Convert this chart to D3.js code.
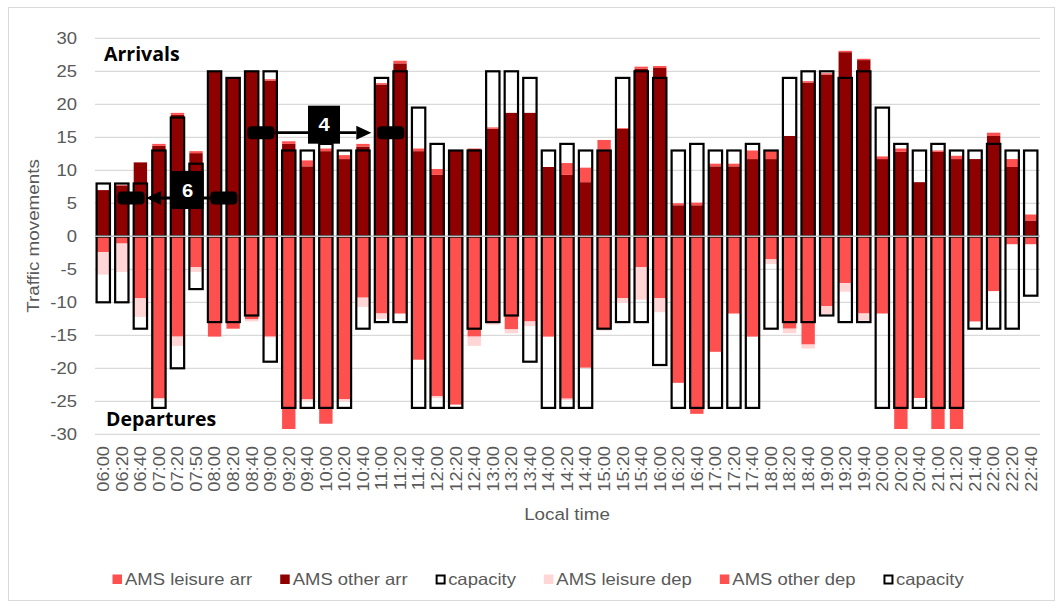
<!DOCTYPE html>
<html>
<head>
<meta charset="utf-8">
<script src="https://cdn.jsdelivr.net/npm/d3@7"></script>
<style>
  body { margin: 0; background: #fff; }
  svg text { font-family: "Liberation Sans", Arial, sans-serif; }
</style>
</head>
<body>
<div id="chart"></div>
<script>
//Values (arrivals up, departures down)
var times = ["06:00","06:20","06:40","07:00","07:20","07:50","08:00","08:20","08:40","09:00",
  "09:20","09:40","10:00","10:20","10:40","11:00","11:20","11:40","12:00","12:20",
  "12:40","13:00","13:20","13:40","14:00","14:20","14:40","15:00","15:20","15:40",
  "16:00","16:20","16:40","17:00","17:20","17:40","18:00","18:20","18:40","19:00",
  "19:20","19:40","20:00","20:20","20:40","21:00","21:20","21:40","22:00","22:20","22:40"];

var otherArr = [7.0, 7.7, 11.2, 13.7, 18.4, 12.6, 25, 24, 25, 23.6,
  14.0, 10.6, 12.9, 11.7, 13.6, 23.0, 26.2, 12.9, 9.3, 13.0,
  13.2, 16.3, 18.7, 18.7, 10.5, 9.3, 8.2, 13.1, 16.3, 25.4,
  25.5, 4.7, 4.7, 10.6, 10.6, 11.7, 11.7, 15.2, 23.3, 24.5,
  27.9, 26.7, 11.7, 12.8, 8.2, 12.8, 11.7, 11.7, 15.2, 10.5, 2.4];

var leisureArr = [0, 0.1, 0, 0.3, 0.3, 0.3, 0, 0, 0, 0.2,
  0.4, 0.9, 0.4, 0.6, 0.4, 0.2, 0.4, 0.4, 0.9, 0,
  0.1, 0.2, 0, 0, 0, 1.8, 2.2, 1.5, 0.1, 0.3,
  0.3, 0.3, 0.4, 0.4, 0.4, 1.3, 1.3, 0, 0.2, 0.2,
  0.2, 0.2, 0.4, 0.5, 0, 0.2, 0.5, 0, 0.5, 1.2, 0.9];

var capArr = [8, 8, 8, 13, 18, 11, 25, 24, 25, 25,
  13, 13, 14, 13, 13, 24, 25, 19.5, 14, 13,
  13, 25, 25, 24, 13, 14, 13, 13, 24, 25,
  24, 13, 14, 13, 13, 14, 13, 24, 25, 25,
  24, 25, 19.5, 14, 13, 14, 13, 13, 14, 13, 13];

var otherDep = [-2.4, -1.1, -9.4, -24.5, -15.2, -4.7, -15.2, -14.0, -12.6, -15.2,
  -29.2, -24.7, -28.4, -24.7, -9.3, -11.7, -11.7, -18.7, -24.2, -25.5,
  -15.2, -13.1, -14.1, -12.9, -15.2, -24.6, -19.9, -14.0, -9.4, -4.7,
  -9.4, -22.2, -26.9, -17.5, -11.7, -15.2, -3.5, -14.0, -16.4, -10.6,
  -7.1, -11.7, -11.7, -29.2, -24.5, -29.2, -29.2, -12.9, -8.3, -1.2, -1.2];

var leisureDep = [-3.4, -4.3, -2.8, -0.2, -1.4, -0.7, 0, 0, -0.3, -0.1,
  0, -0.2, 0, -0.3, -1.4, -0.8, 0, 0, -0.3, 0,
  -1.4, -0.3, -0.6, -0.7, 0, -0.2, 0, -0.3, -0.7, -4.9,
  -2.1, 0, 0, 0, 0, 0, -0.7, -0.7, -0.6, -1.2,
  -1.3, -1.1, 0, 0, 0, 0, 0, 0, 0, 0, 0];

var capDep = [-10, -10, -14, -26, -20, -8, -13, -13, -12, -19,
  -26, -26, -26, -26, -14, -13, -13, -26, -26, -26,
  -14, -13, -12, -19, -26, -26, -26, -14, -13, -13,
  -19.5, -26, -26, -26, -26, -26, -14, -13, -13, -12,
  -13, -13, -26, -26, -26, -26, -26, -14, -14, -14, -9];

var yTicks = [-30, -25, -20, -15, -10, -5, 0, 5, 10, 15, 20, 25, 30];

var seriesKeys = ["otherArr", "leisureArr", "otherDep", "leisureDep"];
var seriesColors = {otherArr: "#8f0000", leisureArr: "#ff5050", otherDep: "#ff5050", leisureDep: "#ffd5d5"};

var legendNames = ["AMS leisure arr", "AMS other arr", "capacity", "AMS leisure dep", "AMS other dep", "capacity"];
var legendKeys = ["leisureArr", "otherArr", "cap", "leisureDep", "otherDep", "cap"];

//Arrow call-outs (band boundaries and value where they sit)
var arrows = [
  {label: "4", from: 9, to: 16, box: 12.4, value: 15.7, dir: "right"},
  {label: "6", from: 2, to: 7, box: 5.05, value: 5.8, dir: "left"}
];

var width = 1057, height = 608;
var stretch = 1.12;
var grey = "#595959";

var svg = d3.select("#chart").append("svg")
  .attr("width", width)
  .attr("height", height);

//Chart frame
svg.append("rect")
  .attr("x", 8.5).attr("y", 7.5)
  .attr("width", 1046).attr("height", 593)
  .attr("fill", "none")
  .attr("stroke", "#d9d9d9");

var x = d3.scaleBand()
  .domain(times)
  .range([94, 1040])
  .paddingInner(0.28)
  .paddingOuter(0.14);

var y = d3.scaleLinear()
  .domain([-30, 30])
  .range([434.3, 38.3]);

var gapHalf = (x.step() - x.bandwidth()) / 2;
function boundary(i) { return x(times[0]) - gapHalf + i * x.step(); }

//small helper so text gets the slightly wide look of the original
function label(g, str, tx, ty, rot) {
  return g.append("text")
    .attr("transform", "translate(" + tx + "," + ty + ")" + (rot ? " rotate(" + rot + ")" : "") + " scale(" + stretch + ",1)")
    .text(str);
}

//Gridlines
svg.append("g").selectAll("line")
  .data(yTicks)
  .enter()
  .append("line")
  .attr("x1", 95).attr("x2", 1040)
  .attr("y1", function(d) { return y(d); })
  .attr("y2", function(d) { return y(d); })
  .attr("stroke", "#d9d9d9")
  .attr("stroke-width", 1.3);

//Stacked bars
var rows = times.map(function(t, i) {
  return {time: t, otherArr: otherArr[i], leisureArr: leisureArr[i], otherDep: otherDep[i], leisureDep: leisureDep[i]};
});
var stacked = d3.stack().keys(seriesKeys).offset(d3.stackOffsetDiverging)(rows);

svg.append("g").selectAll("g")
  .data(stacked)
  .enter()
  .append("g")
  .attr("fill", function(s) { return seriesColors[s.key]; })
  .selectAll("rect")
  .data(function(s) { return s; })
  .enter()
  .append("rect")
  .attr("x", function(d) { return x(d.data.time); })
  .attr("width", x.bandwidth())
  .attr("y", function(d) { return y(Math.max(d[0], d[1])); })
  .attr("height", function(d) { return Math.abs(y(d[0]) - y(d[1])); });

//Capacity outlines
var capRows = times.map(function(t, i) { return {time: t, up: capArr[i], down: capDep[i]}; });
var capG = svg.append("g").attr("fill", "none").attr("stroke", "#000").attr("stroke-width", 2.2);
capG.selectAll("rect.up")
  .data(capRows)
  .enter()
  .append("rect")
  .attr("class", "up")
  .attr("x", function(d) { return x(d.time); })
  .attr("width", x.bandwidth())
  .attr("y", function(d) { return y(d.up); })
  .attr("height", function(d) { return y(0) - y(d.up); });
capG.selectAll("rect.down")
  .data(capRows)
  .enter()
  .append("rect")
  .attr("class", "down")
  .attr("x", function(d) { return x(d.time); })
  .attr("width", x.bandwidth())
  .attr("y", y(0))
  .attr("height", function(d) { return y(d.down) - y(0); });

//Zero line over the bars
svg.append("line")
  .attr("x1", 95).attr("x2", 1040)
  .attr("y1", y(0)).attr("y2", y(0))
  .attr("stroke", "#c4c4c4")
  .attr("stroke-width", 1.4);

//Y tick labels
var yAxisG = svg.append("g").attr("fill", grey).attr("font-size", "16.5px").attr("text-anchor", "end");
yTicks.forEach(function(v) {
  label(yAxisG, v, 77, y(v)).attr("dy", "0.36em");
});

//X tick labels
var xAxisG = svg.append("g").attr("fill", grey).attr("font-size", "16.3px").attr("text-anchor", "end");
times.forEach(function(t) {
  label(xAxisG, t, x(t) + x.bandwidth() / 2, 446, -90).attr("dy", "0.36em");
});

//Axis titles
var titleG = svg.append("g").attr("fill", grey).attr("font-size", "16.8px").attr("text-anchor", "middle");
label(titleG, "Traffic movements", 33, 236, -90).attr("dy", "0.36em");
label(titleG, "Local time", 567, 520);

//Arrivals / Departures
svg.append("text")
  .attr("x", 104).attr("y", 61)
  .style("font-family", "'Open Sans', sans-serif")
  .attr("font-weight", "bold")
  .attr("font-size", "19.5px")
  .attr("fill", "#000")
  .text("Arrivals");
svg.append("text")
  .attr("x", 106).attr("y", 426)
  .style("font-family", "'Open Sans', sans-serif")
  .attr("font-weight", "bold")
  .attr("font-size", "19.5px")
  .attr("fill", "#000")
  .text("Departures");

//Arrow call-outs
arrows.forEach(function(a) {
  var g = svg.append("g");
  var ay = y(a.value);
  var x1 = boundary(a.from), x2 = boundary(a.to);
  var half = 13.5, head = 15, tip, lineFrom, lineTo;
  [x1, x2].forEach(function(cx) {
    g.append("rect")
      .attr("x", cx - half).attr("y", ay - 6.5)
      .attr("width", half * 2).attr("height", 13)
      .attr("rx", 4)
      .attr("fill", "#000");
  });
  if (a.dir == "right") {
    tip = x2 - half - 6;
    lineFrom = x1 + half; lineTo = tip - head;
    g.append("path").attr("d", "M" + tip + "," + ay + "L" + (tip - head) + "," + (ay - 7) + "L" + (tip - head) + "," + (ay + 7) + "Z");
  } else {
    tip = x1 + half + 1.5;
    lineFrom = tip + head; lineTo = x2 - half;
    g.append("path").attr("d", "M" + tip + "," + ay + "L" + (tip + head) + "," + (ay - 7) + "L" + (tip + head) + "," + (ay + 7) + "Z");
  }
  g.append("line")
    .attr("x1", lineFrom).attr("x2", lineTo)
    .attr("y1", ay).attr("y2", ay)
    .attr("stroke", "#000").attr("stroke-width", 2.8);
  var bx = boundary(0) + a.box * x.step();
  g.append("rect")
    .attr("x", bx - 16).attr("y", ay - 8 - 19)
    .attr("width", 32).attr("height", 38)
    .attr("fill", "#000");
  label(g, a.label, bx, ay - 8 + 6.5)
    .attr("text-anchor", "middle")
    .attr("font-weight", "bold")
    .attr("font-size", "18px")
    .attr("fill", "#fff");
});

//Legend
var legendG = svg.append("g").attr("font-size", "16.5px").attr("fill", grey);
var lx = 112.5;
legendNames.forEach(function(name, i) {
  var k = legendKeys[i];
  if (k == "cap") {
    legendG.append("rect")
      .attr("x", lx + 1).attr("y", 575.5)
      .attr("width", 8).attr("height", 8)
      .attr("fill", "#fff").attr("stroke", "#000").attr("stroke-width", 2);
  } else {
    legendG.append("rect")
      .attr("x", lx).attr("y", 574.5)
      .attr("width", 9.5).attr("height", 9.5)
      .attr("fill", seriesColors[k]);
  }
  var t = label(legendG, name, lx + 12.5, 584.5);
  lx = lx + 12.5 + t.node().getComputedTextLength() * stretch + 28;
});
</script>
</body>
</html>
